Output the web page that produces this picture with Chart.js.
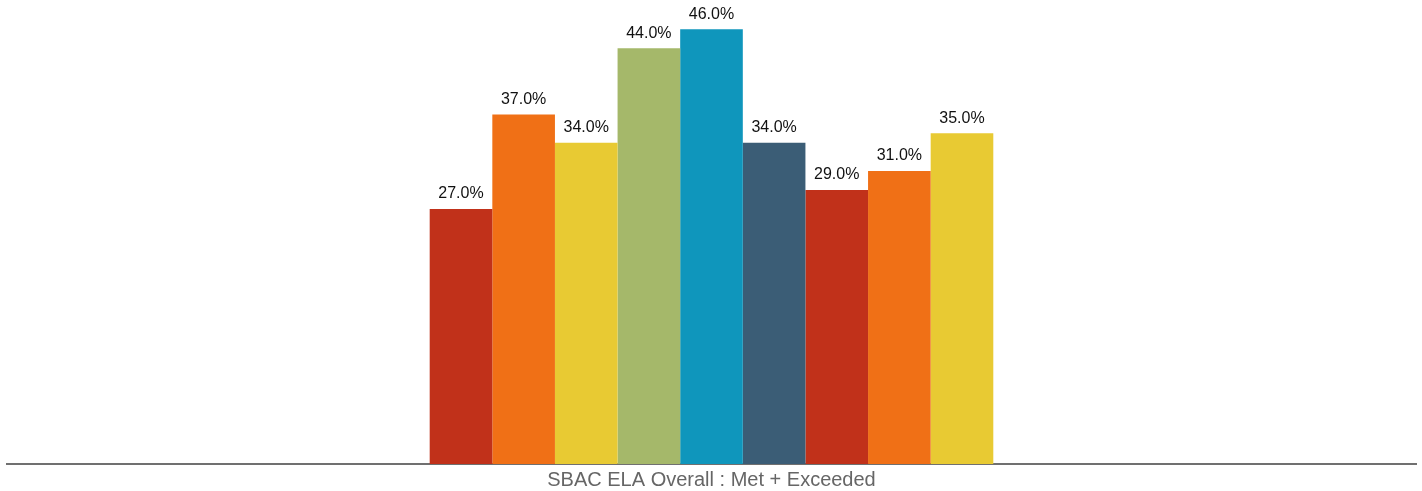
<!DOCTYPE html>
<html lang="en">
<head>
    <meta charset="UTF-8">
    <title>SBAC ELA Overall</title>
    <script src="https://cdn.jsdelivr.net/npm/chart.js"></script>
    <style>
        body { margin: 0; padding: 0; background: #fff; }
        #wrap { width: 1422px; height: 491px; }
    </style>
</head>
<body>
    <div id="wrap"><canvas id="chart"></canvas></div>
    <script>
        // dati
        const categories = ["SBAC ELA Overall : Met + Exceeded"];
        const seriesNames = ["S1", "S2", "S3", "S4", "S5", "S6", "S7", "S8", "S9"];
        const seriesValues = [27, 37, 34, 44, 46, 34, 29, 31, 35];
        const seriesColors = ["#C1311A", "#F07016", "#E8CA33", "#A5B86A", "#0F96BC", "#3B5D76", "#C1311A", "#F07016", "#E8CA33"];

        // etichette sopra le barre
        const valueLabels = {
            id: "valueLabels",
            afterDatasetsDraw(chart) {
                const ctx = chart.ctx;
                ctx.save();
                ctx.font = "16px 'Liberation Sans', Arial, sans-serif";
                ctx.fillStyle = "#111";
                ctx.textAlign = "center";
                ctx.textBaseline = "bottom";
                chart.data.datasets.forEach((ds, i) => {
                    chart.getDatasetMeta(i).data.forEach((bar, j) => {
                        ctx.fillText(ds.data[j].toFixed(1) + "%", bar.x, bar.y - 7);
                    });
                });
                ctx.restore();
            }
        };

        new Chart(document.getElementById("chart"), {
            type: "bar",
            data: {
                labels: categories,
                datasets: seriesNames.map((name, i) => ({
                    label: name,
                    data: [seriesValues[i]],
                    backgroundColor: seriesColors[i],
                    borderWidth: 0
                }))
            },
            options: {
                responsive: true,
                maintainAspectRatio: false,
                animation: false,
                categoryPercentage: 0.4,
                barPercentage: 1.0,
                layout: { padding: { left: 7, right: 6, top: 1, bottom: -5 } },
                plugins: { legend: { display: false }, tooltip: { enabled: false } },
                scales: {
                    x: {
                        grid: { display: false, drawTicks: false },
                        border: { display: true, color: "#707070", width: 2 },
                        ticks: {
                            color: "#666",
                            padding: 6,
                            font: { size: 20, lineHeight: 1, family: "'Liberation Sans', Arial, sans-serif" }
                        }
                    },
                    y: {
                        display: false,
                        min: 0,
                        max: 49
                    }
                }
            },
            plugins: [valueLabels]
        });
    </script>
</body>
</html>
